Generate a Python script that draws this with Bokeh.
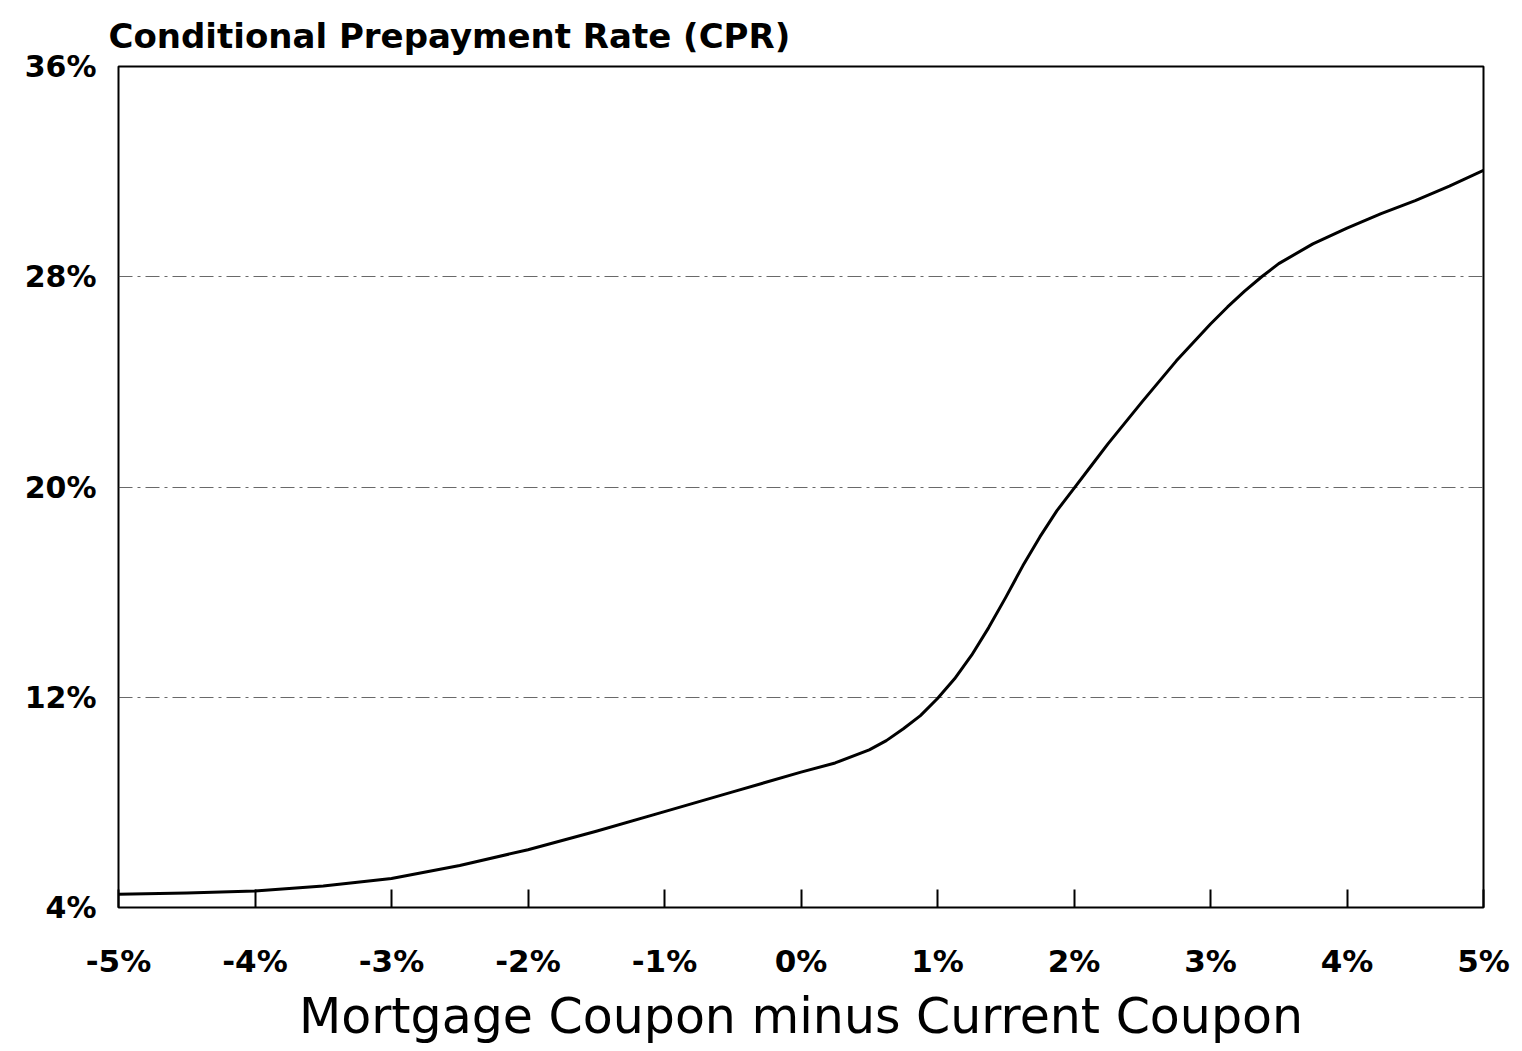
from bokeh.plotting import figure
from bokeh.models import FixedTicker, ColumnDataSource
from bokeh.embed import file_html
from bokeh.resources import INLINE

# Data
spread = [-5, -4.5, -4, -3.5, -3, -2.5, -2, -1.5, -1, -0.5, 0, 0.25, 0.5,
          0.625, 0.75, 0.875, 1, 1.125, 1.25, 1.375, 1.5, 1.625, 1.75, 1.875,
          2, 2.125, 2.25, 2.5, 2.75, 3, 3.125, 3.25, 3.375, 3.5, 3.75, 4, 4.25,
          4.5, 4.75, 5]
cpr = [4.5, 4.55, 4.63, 4.82, 5.1, 5.6, 6.2, 6.9, 7.65, 8.4, 9.15, 9.5, 10.0,
       10.35, 10.8, 11.3, 11.95, 12.7, 13.6, 14.65, 15.8, 17.0, 18.1, 19.1,
       19.95, 20.8, 21.65, 23.25, 24.8, 26.2, 26.85, 27.45, 28.0, 28.5, 29.25,
       29.85, 30.4, 30.9, 31.45, 32.05]

x_ticks = [-5, -4, -3, -2, -1, 0, 1, 2, 3, 4, 5]
x_tick_labels = ["-5%", "-4%", "-3%", "-2%", "-1%", "0%", "1%", "2%", "3%", "4%", "5%"]
y_ticks = [4, 12, 20, 28, 36]
y_tick_labels = ["4%", "12%", "20%", "28%", "36%"]

title_text = "Conditional Prepayment Rate (CPR)"
x_title = "Mortgage Coupon minus Current Coupon"

FONT = "DejaVu Sans"

p = figure(width=1513, height=1047, x_range=(-5, 5), y_range=(4, 36),
           output_backend="svg", toolbar_location=None,
           min_border_left=118, min_border_right=30, min_border_top=66,
           min_border_bottom=139, title=title_text)

p.title.text_font = FONT
p.title.text_font_size = "34px"
p.title.text_font_style = "bold"
p.title.text_color = "black"
p.title.align = "left"
p.title.offset = -10
p.title.standoff = 21

p.outline_line_color = "black"
p.outline_line_width = 2
p.background_fill_color = "white"
p.border_fill_color = "white"

src = ColumnDataSource(dict(x=spread, y=cpr))
p.line("x", "y", source=src, line_color="black", line_width=3,
       line_join="round")

# x axis
xa = p.xaxis[0]
xa.ticker = FixedTicker(ticks=x_ticks)
xa.major_label_overrides = {t: l for t, l in zip(x_ticks, x_tick_labels)}
xa.major_tick_in = 18
xa.major_tick_out = 0
xa.major_tick_line_width = 2
xa.minor_tick_line_color = None
xa.axis_line_color = None
xa.major_label_standoff = 35
xa.major_label_text_font = FONT
xa.major_label_text_font_size = "31px"
xa.major_label_text_font_style = "bold"
xa.major_label_text_color = "black"
xa.axis_label = x_title
xa.axis_label_text_font = FONT
xa.axis_label_text_font_size = "49px"
xa.axis_label_text_font_style = "normal"
xa.axis_label_text_color = "black"
xa.axis_label_standoff = 6

# y axis
ya = p.yaxis[0]
ya.ticker = FixedTicker(ticks=y_ticks)
ya.major_label_overrides = {t: l for t, l in zip(y_ticks, y_tick_labels)}
ya.major_tick_in = 0
ya.major_tick_out = 0
ya.minor_tick_line_color = None
ya.axis_line_color = None
ya.major_label_standoff = 22
ya.major_label_text_font = FONT
ya.major_label_text_font_size = "30px"
ya.major_label_text_font_style = "bold"
ya.major_label_text_color = "black"

p.xgrid.grid_line_color = None
p.ygrid.ticker = FixedTicker(ticks=[12, 20, 28])
p.ygrid.grid_line_color = "#444444"
p.ygrid.grid_line_width = 1
p.ygrid.grid_line_alpha = 0.8
p.ygrid.grid_line_dash = "14 5 3 5"

open("out.html", "w").write(file_html(p, INLINE))
